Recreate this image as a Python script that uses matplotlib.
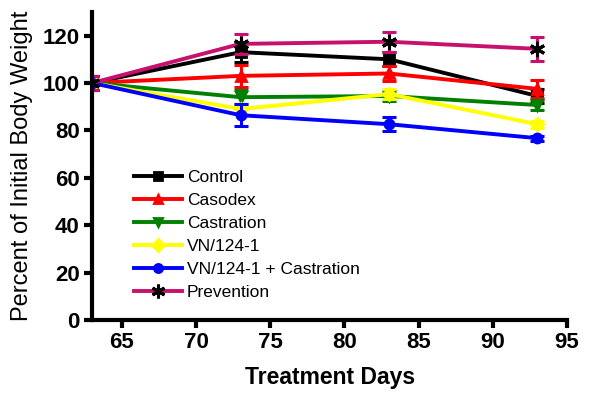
import matplotlib.pyplot as plt
import numpy as np

days = [63, 73, 83, 93]

control = [100, 113, 110, 94.5]
control_err = [3, 4, 3, 3]
casodex = [100, 103, 104, 97.5]
casodex_err = [3, 4.6, 3, 3.8]
castration = [100, 94, 94.5, 90.7]
castration_err = [3, 3, 2, 2]
vn = [100, 89, 95.3, 82.6]
vn_err = [2, 2, 2, 1.5]
vn_cast = [100, 86.4, 82.6, 76.7]
vn_cast_err = [3, 4.6, 3, 1]
prevention = [100, 116.5, 117.4, 114.4]
prevention_err = [3, 4.2, 4.2, 5]

series = [
    ("Control", control, control_err, "black", "s", "black"),
    ("Casodex", casodex, casodex_err, "#ff0000", "^", "#ff0000"),
    ("Castration", castration, castration_err, "#008000", "v", "#008000"),
    ("VN/124-1", vn, vn_err, "#ffff00", "D", "#ffff00"),
    ("VN/124-1 + Castration", vn_cast, vn_cast_err, "#0000ff", "o", "#0000ff"),
    ("Prevention", prevention, prevention_err, "#c8106e", (6, 2, 0), "black"),
]

plt.rcParams['font.family'] = ['Liberation Sans', 'DejaVu Sans']

fig = plt.figure(figsize=(6.02, 3.96), dpi=100)
ax = fig.add_axes([0.153, 0.192, 0.789, 0.778])

for name, vals, err, col, mk, mcol in series:
    ax.errorbar(days, vals, yerr=err, fmt="none", ecolor=col, capsize=5,
                capthick=2.2, elinewidth=2.2)
    star = mk == (6, 2, 0)
    ax.plot(days, vals, color=col, lw=2.8, marker=mk, ms=11 if star else 6.5,
            mfc=mcol, mec=mcol, mew=2.2 if star else 2, label=name)

ax.set_xlim(63, 95)
ax.set_ylim(0, 130)
ax.set_xticks([65, 70, 75, 80, 85, 90, 95])
ax.set_yticks([0, 20, 40, 60, 80, 100, 120])
for s in ["top", "right"]:
    ax.spines[s].set_visible(False)
for s in ["left", "bottom"]:
    ax.spines[s].set_linewidth(3)
ax.tick_params(width=3, length=6, labelsize=16, direction="out", pad=3)
for lab in ax.get_xticklabels() + ax.get_yticklabels():
    lab.set_fontweight("bold")
ax.set_xlabel("Treatment Days", fontsize=16.5, fontweight="bold", labelpad=9)
ax.set_ylabel("Percent of Initial Body Weight", fontsize=17, labelpad=7)

leg = ax.legend(loc="lower left", bbox_to_anchor=(0.055, 0.015), frameon=False,
                fontsize=12.5, handlelength=2.75, labelspacing=0.45,
                handletextpad=0.3, markerscale=0.9)

plt.savefig("out.png", dpi=100)
